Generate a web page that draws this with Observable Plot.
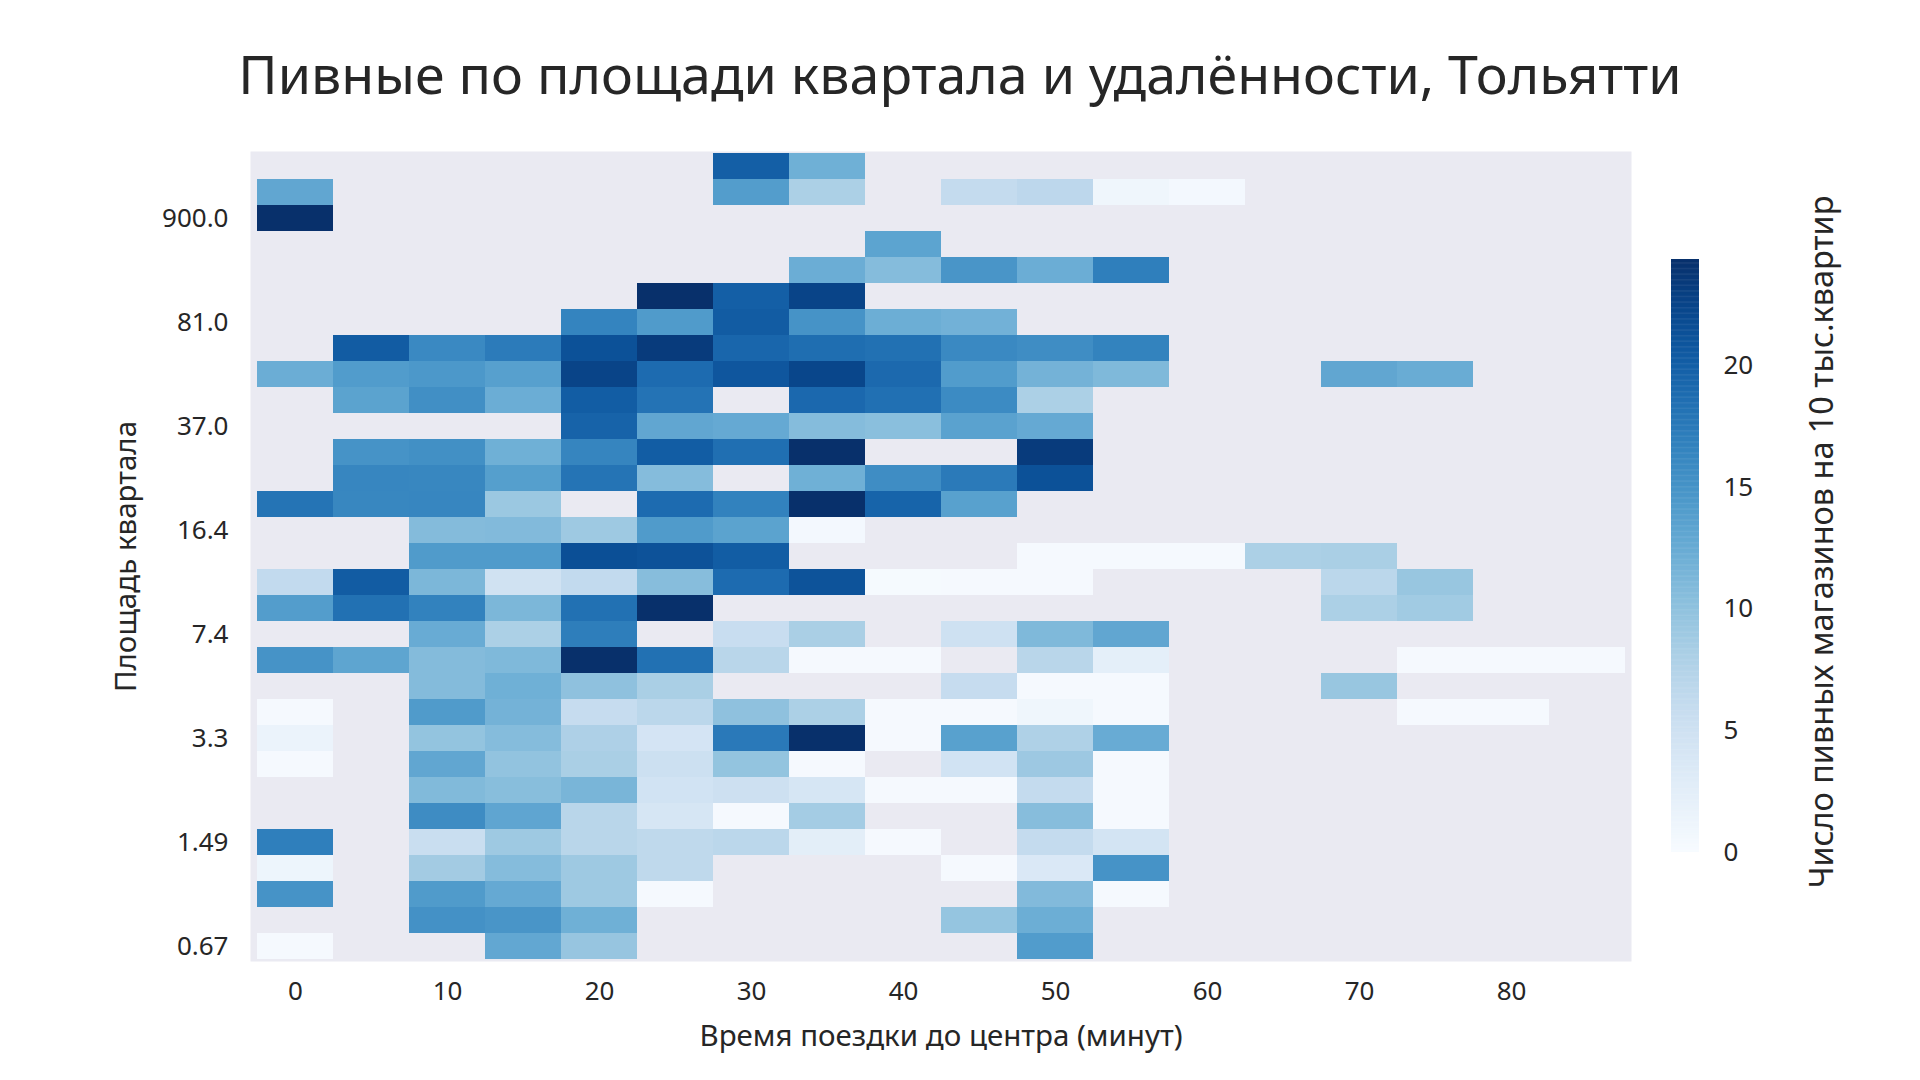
<!DOCTYPE html>
<html>
<head>
<meta charset="utf-8">
<script src="https://cdn.jsdelivr.net/npm/d3@7"></script>
<script src="https://cdn.jsdelivr.net/npm/@observablehq/plot@0.6"></script>
<style>
  html, body { margin: 0; padding: 0; background: #ffffff; }
  #chart { position: relative; width: 1920px; height: 1080px; overflow: hidden;
           font-family: "Noto Sans", sans-serif; color: #262626; }
  #chart h1 { position: absolute; left: 0; top: 47px; width: 1920px; margin: 0;
              text-align: center; font-weight: normal; font-size: 53.7px; line-height: 1; }
  #chart svg { position: absolute; left: 0; top: 0; }
</style>
</head>
<body>
<div id="chart">
  <h1 id="title"></h1>
</div>
<script>
// Texts
const titleText = "Пивные по площади квартала и удалённости, Тольятти";
const xTitle = "Время поездки до центра (минут)";
const yTitle = "Площадь квартала";
const barTitle = "Число пивных магазинов на 10 тыс.квартир";

// Travel-time columns (minutes) and the labelled ticks
const minutes = [0, 5, 10, 15, 20, 25, 30, 35, 40, 45, 50, 55, 60, 65, 70, 75, 80, 85];
const minuteTicks = [0, 10, 20, 30, 40, 50, 60, 70, 80];

// Block-area rows: row 0 is the smallest area; only every fourth row is labelled
const areaTickRows = [0, 4, 8, 12, 16, 20, 24, 28];
const areaTickLabels = ["0.67", "1.49", "3.3", "7.4", "16.4", "37.0", "81.0", "900.0"];

// Beer shops per 10k flats, one array per area row (bottom to top), null = no blocks
const n = null;
const densityRows = [
  [0.3, n, n, 12.9, 9.5, n, n, n, n, n, 14.1, n, n, n, n, n, n, n],
  [n, n, 15.2, 14.8, 12, n, n, n, n, 9.6, 12.2, n, n, n, n, n, n, n],
  [15, n, 14.2, 12.7, 9, 0.3, n, n, n, n, 10.8, 0.3, n, n, n, n, n, n],
  [1.2, n, 8.7, 10.6, 9, 6.5, n, n, n, 0.3, 3.6, 15, n, n, n, n, n, n],
  [17, n, 5.5, 9, 7, 6.5, 6.8, 2.5, 0.3, n, 6, 4.4, n, n, n, n, n, n],
  [n, n, 15.7, 13.1, 7, 4, 0.3, 8.6, n, n, 10.5, 0.3, n, n, n, n, n, n],
  [n, n, 10.9, 10.4, 11.4, 4.6, 5.1, 4, 0.3, 0.3, 6, 0.3, n, n, n, n, n, n],
  [0.3, n, 13, 9.8, 8.2, 5.2, 9.7, 0.3, n, 4.6, 9.1, 0.3, n, n, n, n, n, n],
  [1.5, n, 9.7, 10.6, 7.9, 4.3, 17.5, 24.35, 0.3, 13.6, 7.8, 12.5, n, n, n, n, n, n],
  [0.3, n, 14.2, 11.7, 5.8, 6.8, 10, 8, 0.3, 0.3, 1, 0.3, n, n, n, 0.3, 0.3, n],
  [n, n, 10.7, 12, 10, 8.2, n, n, n, 5.8, 0.3, 0.3, n, n, 9.4, n, n, n],
  [15, 13.2, 10.7, 11, 24.35, 18.3, 7, 0.3, 0.3, n, 7, 2.3, n, n, n, 0.3, 0.3, 0.3],
  [n, n, 12.5, 8, 17.1, n, 5.6, 8.2, n, 5, 11, 13, n, n, n, n, n, n],
  [14, 18.3, 16.7, 11.2, 18.3, 24.35, n, n, n, n, n, n, n, n, 8, 8.8, n, n],
  [6.2, 20.3, 11.2, 4.8, 6.2, 10.5, 18.8, 21.1, 0.2, 0.3, 0.3, n, n, n, 6.8, 9.4, n, n],
  [n, n, 14.2, 14.2, 21.5, 21.2, 20.2, n, n, n, 0.3, 0.3, 0.3, 8, 8.2, n, n, n],
  [n, n, 10.7, 10.8, 9, 14.2, 13.4, 0.5, n, n, n, n, n, n, n, n, n, n],
  [18, 16.2, 16.3, 9.2, n, 18.8, 16.7, 24.35, 19.5, 13.6, n, n, n, n, n, n, n, n],
  [n, 16.3, 16.2, 13.8, 18, 10.6, n, 12, 15.6, 17.4, 21.3, n, n, n, n, n, n, n],
  [n, 15, 15.3, 12, 16.4, 20.2, 18.5, 24.35, n, n, 23.3, n, n, n, n, n, n, n],
  [n, n, n, n, 19.6, 13, 12.7, 10.6, 10.3, 13.5, 12.7, n, n, n, n, n, n, n],
  [n, 13.4, 15.4, 12.3, 20.2, 18.1, n, 19.1, 18.4, 15.8, 8, n, n, n, n, n, n, n],
  [12.3, 14.1, 14.5, 13.7, 22.5, 18.8, 20.8, 22.3, 19, 14.1, 11.7, 11, n, n, 13, 12.4, n, n],
  [n, 20.3, 16, 17.3, 21.3, 23.3, 19.3, 18.6, 18.3, 16, 15.6, 16.6, n, n, n, n, n, n],
  [n, n, n, n, 16.5, 14.2, 20.3, 15, 12.2, 11.8, n, n, n, n, n, n, n, n],
  [n, n, n, n, n, 24.35, 20, 22.5, n, n, n, n, n, n, n, n, n, n],
  [n, n, n, n, n, n, n, 12.3, 10.6, 14.8, 12.3, 17, n, n, n, n, n, n],
  [n, n, n, n, n, n, n, n, 13.3, n, n, n, n, n, n, n, n, n],
  [24.35, n, n, n, n, n, n, n, n, n, n, n, n, n, n, n, n, n],
  [13, n, n, n, n, n, 14, 8, n, 6, 6.7, 1, 0.5, n, n, n, n, n],
  [n, n, n, n, n, n, 20, 12, n, n, n, n, n, n, n, n, n, n]
];

// Colour range of the scale bar
const colorDomain = [0, 24.35];
const barTicks = [0, 5, 10, 15, 20];

const ink = "#262626";
const font = "Noto Sans, sans-serif";

const cells = densityRows.flatMap((row, r) =>
  row.map((value, c) => ({minute: minutes[c], row: r, value}))
).filter(d => d.value != null);
const rowOrder = densityRows.map((_, r) => r).reverse();
const colorScale = {type: "linear", scheme: "blues", domain: colorDomain};

document.getElementById("title").textContent = titleText;

const heatmap = Plot.plot({
  width: 1920,
  height: 1080,
  marginLeft: 250,
  marginRight: 289,
  marginTop: 151,
  marginBottom: 119,
  style: {fontFamily: font, fontSize: "26px", color: ink, background: "transparent", overflow: "visible"},
  x: {type: "band", domain: minutes, padding: 0, ticks: minuteTicks, tickSize: 0, tickPadding: 20, label: null},
  y: {type: "band", domain: rowOrder, padding: 0, ticks: areaTickRows,
      tickFormat: r => areaTickLabels[areaTickRows.indexOf(r)], tickSize: 0, tickPadding: 22, label: null},
  color: colorScale,
  marks: [
    Plot.frame({fill: "#EAEAF2", stroke: null}),
    Plot.cell(cells, {x: "minute", y: "row", fill: "value", inset: 0}),
    Plot.text([xTitle], {text: d => d, frameAnchor: "bottom", lineAnchor: "middle", dy: 75,
                         fontSize: 29.5, fill: ink}),
    Plot.text([yTitle], {text: d => d, frameAnchor: "left", textAnchor: "middle", lineAnchor: "middle",
                         dx: -124, rotate: -90, fontSize: 29.5, fill: ink})
  ]
});

// Vertical colour bar drawn from the same colour scale
const barSteps = d3.range(colorDomain[0], colorDomain[1], 0.05);
const colorbar = Plot.plot({
  width: 1920,
  height: 1080,
  marginLeft: 1671,
  marginRight: 221,
  marginTop: 259,
  marginBottom: 228,
  style: {fontFamily: font, fontSize: "26px", color: ink, background: "transparent", overflow: "visible"},
  x: {domain: [0, 1], axis: null},
  y: {domain: colorDomain, ticks: barTicks, tickSize: 0, tickPadding: 24, axis: "right", label: null},
  color: colorScale,
  marks: [
    Plot.rect(barSteps, {x1: () => 0, x2: () => 1, y1: d => d, y2: d => Math.min(d + 0.07, colorDomain[1]), fill: d => d}),
    Plot.text([barTitle], {text: d => d, frameAnchor: "right", textAnchor: "middle", lineAnchor: "middle",
                           dx: 123, dy: -14, rotate: -90, fontSize: 32.4, fill: ink})
  ]
});

const chart = document.getElementById("chart");
chart.appendChild(heatmap);
chart.appendChild(colorbar);
</script>
</body>
</html>
